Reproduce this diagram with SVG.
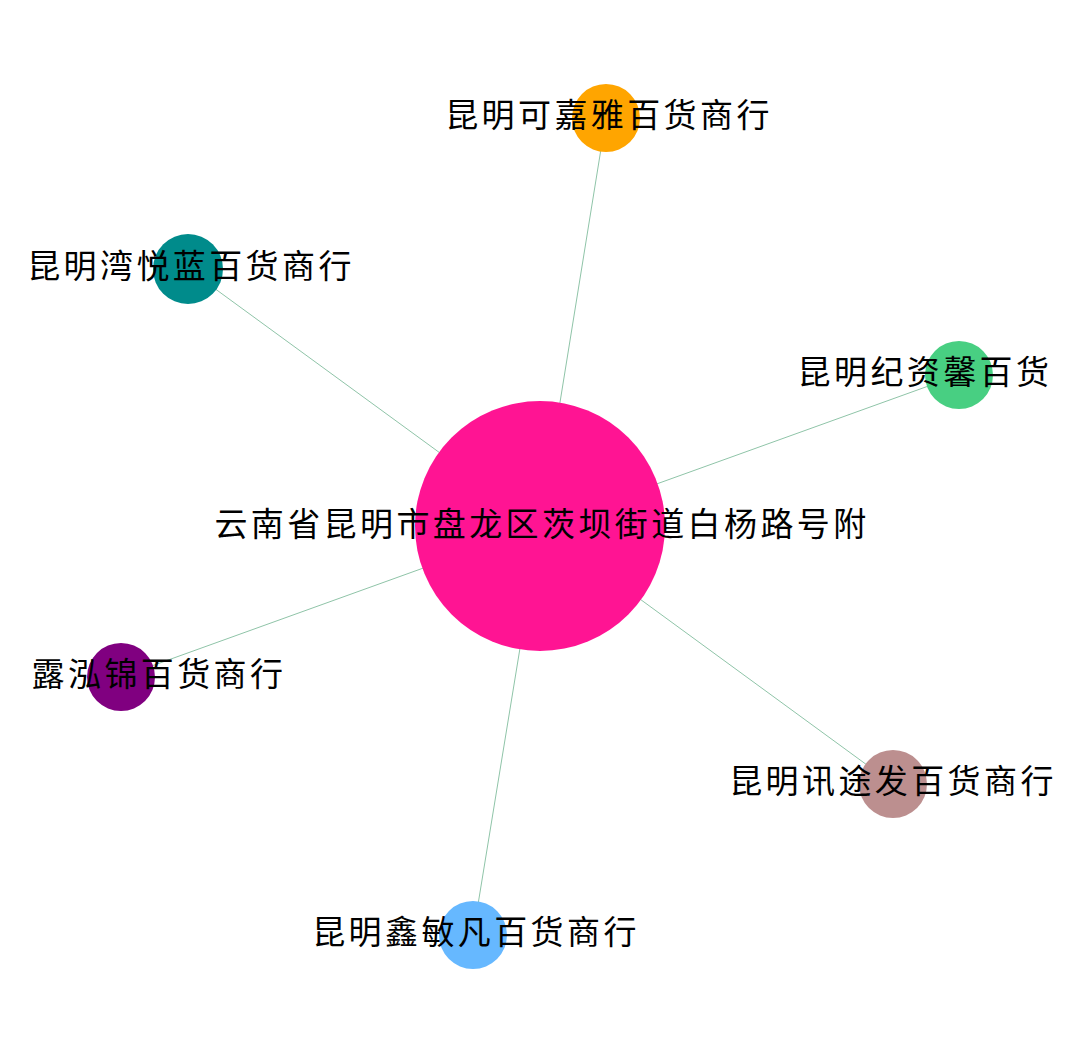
<svg xmlns="http://www.w3.org/2000/svg" width="1080" height="1054" viewBox="0 0 1080 1054">
<style>
.e{stroke:#8fc4a8;stroke-width:1;fill:none}
.l{font-family:"Noto Sans CJK SC","Noto Sans",sans-serif;font-size:33px;fill:#000;text-anchor:middle;letter-spacing:3.4px}
</style>
<rect width="1080" height="1054" fill="#fff"/>
<g id="edges">
<line class="e" x1="540" y1="526" x2="606" y2="118"/>
<line class="e" x1="540" y1="526" x2="188" y2="269"/>
<line class="e" x1="540" y1="526" x2="959" y2="375"/>
<line class="e" x1="540" y1="526" x2="121" y2="677"/>
<line class="e" x1="540" y1="526" x2="893" y2="784"/>
<line class="e" x1="540" y1="526" x2="473" y2="935"/>
</g>
<g id="n0"><circle cx="540" cy="526" r="125" fill="#ff1493"/><text class="l" x="542" y="536">云南省昆明市盘龙区茨坝街道白杨路号附</text></g>
<g id="n1"><circle cx="606" cy="118" r="34" fill="#ffa500"/><text class="l" x="609" y="127">昆明可嘉雅百货商行</text></g>
<g id="n2"><circle cx="188" cy="269" r="35" fill="#008b8b"/><text class="l" x="191" y="278">昆明湾悦蓝百货商行</text></g>
<g id="n3"><circle cx="959" cy="375" r="34" fill="#48cf82"/><text class="l" x="925" y="384">昆明纪资馨百货</text></g>
<g id="n4"><circle cx="121" cy="677" r="34" fill="#800080"/><text class="l" x="159" y="686">露泓锦百货商行</text></g>
<g id="n5"><circle cx="893" cy="784" r="34" fill="#bc8f8f"/><text class="l" x="893" y="793">昆明讯途发百货商行</text></g>
<g id="n6"><circle cx="473" cy="935" r="34" fill="#66b8ff"/><text class="l" x="476" y="944">昆明鑫敏凡百货商行</text></g>
</svg>
